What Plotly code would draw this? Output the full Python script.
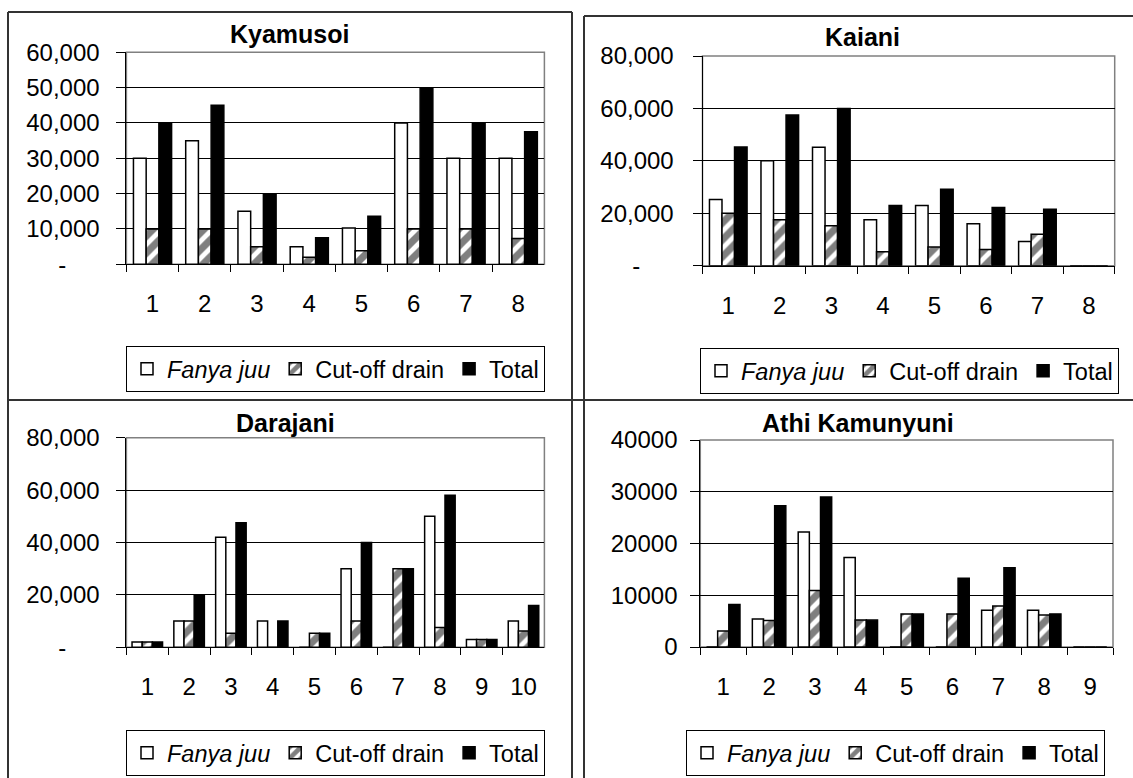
import plotly.graph_objects as go

W, H = 1133, 778

# ---------------- data ----------------
ky_cats = ["1", "2", "3", "4", "5", "6", "7", "8"]
ky_fanya = [30000, 35000, 15000, 5000, 10300, 40000, 30000, 30000]
ky_cutoff = [10000, 10000, 5000, 2000, 3800, 10000, 10000, 7300]
ky_total = [40000, 45000, 20000, 7500, 13600, 50000, 40000, 37500]

ka_cats = ["1", "2", "3", "4", "5", "6", "7", "8"]
ka_fanya = [25300, 40000, 45200, 17500, 23000, 16000, 9200, 0]
ka_cutoff = [20000, 17500, 15200, 5300, 7100, 6200, 12000, 0]
ka_total = [45300, 57500, 60000, 23000, 29200, 22200, 21500, 0]

da_cats = ["1", "2", "3", "4", "5", "6", "7", "8", "9", "10"]
da_fanya = [2000, 10000, 42000, 10000, 0, 30000, 0, 50000, 3000, 10000]
da_cutoff = [2000, 10000, 5400, 0, 5400, 10000, 30000, 7600, 3000, 6200]
da_total = [2000, 20000, 47500, 10000, 5400, 40000, 30000, 58000, 3000, 16000]

ak_cats = ["1", "2", "3", "4", "5", "6", "7", "8", "9"]
ak_fanya = [0, 5400, 22200, 17300, 0, 0, 7100, 7100, 0]
ak_cutoff = [3100, 5100, 10900, 5200, 6400, 6400, 7900, 6200, 0]
ak_total = [8200, 27300, 29000, 5200, 6400, 13300, 15300, 6400, 0]

titles = ["Kyamusoi", "Kaiani", "Darajani", "Athi Kamunyuni"]
series_names = ["<i>Fanya juu</i>", "Cut-off drain", "Total"]

ky_ticks = [0, 10000, 20000, 30000, 40000, 50000, 60000]
ky_ticktext = ["-\u00a0\u00a0\u00a0\u00a0\u00a0", "10,000", "20,000", "30,000", "40,000", "50,000", "60,000"]
ka_ticks = [0, 20000, 40000, 60000, 80000]
ka_ticktext = ["-\u00a0\u00a0\u00a0\u00a0\u00a0", "20,000", "40,000", "60,000", "80,000"]
da_ticks = [0, 20000, 40000, 60000, 80000]
da_ticktext = ["-\u00a0\u00a0\u00a0\u00a0\u00a0", "20,000", "40,000", "60,000", "80,000"]
ak_ticks = [0, 10000, 20000, 30000, 40000]
ak_ticktext = ["0", "10000", "20000", "30000", "40000"]

# ---------------- layout geometry (pixels) ----------------
panels = [
    dict(cats=ky_cats, vals=[ky_fanya, ky_cutoff, ky_total], ticks=ky_ticks, ticktext=ky_ticktext,
         x0=126.4, x1=544.4, ytop=52.3, ybot=264.3, title_xy=(289, 34), leg_xy=(126, 346), ystand=12),
    dict(cats=ka_cats, vals=[ka_fanya, ka_cutoff, ka_total], ticks=ka_ticks, ticktext=ka_ticktext,
         x0=702.5, x1=1114.7, ytop=56.0, ybot=265.7, title_xy=(862, 37), leg_xy=(700, 348), ystand=14),
    dict(cats=da_cats, vals=[da_fanya, da_cutoff, da_total], ticks=da_ticks, ticktext=da_ticktext,
         x0=126.4, x1=544.4, ytop=437.7, ybot=647.3, title_xy=(285, 423), leg_xy=(126, 730), ystand=12),
    dict(cats=ak_cats, vals=[ak_fanya, ak_cutoff, ak_total], ticks=ak_ticks, ticktext=ak_ticktext,
         x0=700.3, x1=1113.0, ytop=440.0, ybot=647.0, title_xy=(858, 423), leg_xy=(686, 730), ystand=8),
]

FONT = "Liberation Sans, Arial, sans-serif"
fig = go.Figure()
layout = dict(
    width=W, height=H, margin=dict(l=0, r=0, t=0, b=0, autoexpand=False),
    paper_bgcolor="white", plot_bgcolor="white",
    barmode="group", bargap=0.27, bargroupgap=0,
    font=dict(family=FONT, size=24, color="black"),
    showlegend=True,
)
shapes = []
annotations = []

for i, p in enumerate(panels):
    k = "" if i == 0 else str(i + 1)
    xa, ya = "x" + k, "y" + k
    leg = "legend" + k
    styles = [
        dict(color="white", line=dict(color="black", width=1.5)),
        dict(color="white", line=dict(color="black", width=1.5),
             pattern=dict(shape="/", fgcolor="black", bgcolor="white", size=12, solidity=0.6)),
        dict(color="black", line=dict(color="black", width=1.5)),
    ]
    for name, v, st in zip(series_names, p["vals"], styles):
        fig.add_trace(go.Bar(x=p["cats"], y=v, name=name, marker=st,
                             xaxis=xa, yaxis=ya, legend=leg, showlegend=True))
    layout["xaxis" + k] = dict(
        domain=[p["x0"] / W, p["x1"] / W], anchor=ya, type="category",
        showline=True, linecolor="black", linewidth=1,
        ticks="outside", ticklen=7, tickcolor="black", tickson="boundaries",
        showgrid=False, ticklabelstandoff=18, tickfont=dict(size=24),
        fixedrange=True, automargin=False,
    )
    layout["yaxis" + k] = dict(
        domain=[1 - p["ybot"] / H, 1 - p["ytop"] / H], anchor=xa,
        range=[0, p["ticks"][-1]], tickvals=p["ticks"], ticktext=p["ticktext"],
        showline=True, linecolor="black", linewidth=1,
        ticks="outside", ticklen=9, tickcolor="black",
        showgrid=True, gridcolor="black", gridwidth=1, zeroline=False,
        ticklabelstandoff=p["ystand"], tickfont=dict(size=24),
        fixedrange=True, automargin=False,
    )
    layout[leg] = dict(
        orientation="h", x=p["leg_xy"][0] / W, y=1 - p["leg_xy"][1] / H,
        xanchor="left", yanchor="top", bgcolor="white",
        bordercolor="black", borderwidth=1, font=dict(size=23.5),
        itemclick=False, itemdoubleclick=False,
    )
    shapes.append(dict(type="rect", xref=xa + " domain", yref=ya + " domain",
                       x0=0, x1=1, y0=0, y1=1, line=dict(color="#808080", width=1.5),
                       layer="below"))
    annotations.append(dict(text="<b>" + titles[i] + "</b>", xref="paper", yref="paper",
                            x=p["title_xy"][0] / W, y=1 - p["title_xy"][1] / H,
                            xanchor="center", yanchor="middle", showarrow=False,
                            font=dict(size=25, family=FONT)))

def hline(x0, x1, y):
    return dict(type="line", xref="paper", yref="paper", x0=x0 / W, x1=x1 / W,
                y0=1 - y / H, y1=1 - y / H, line=dict(color="#333333", width=2))

def vline(x, y0, y1):
    return dict(type="line", xref="paper", yref="paper", x0=x / W, x1=x / W,
                y0=1 - y0 / H, y1=1 - y1 / H, line=dict(color="#333333", width=2))

shapes += [
    hline(8, 572, 12), hline(584, 1133, 16), hline(8, 1133, 400),
    vline(8, 12, 778), vline(572, 12, 778), vline(584, 16, 778),
]

layout["shapes"] = shapes
layout["annotations"] = annotations
fig.update_layout(**layout)
fig.write_html("out.html", config={"displayModeBar": False},
               post_script="document.body.style.margin='0';document.body.style.overflow='hidden';")
